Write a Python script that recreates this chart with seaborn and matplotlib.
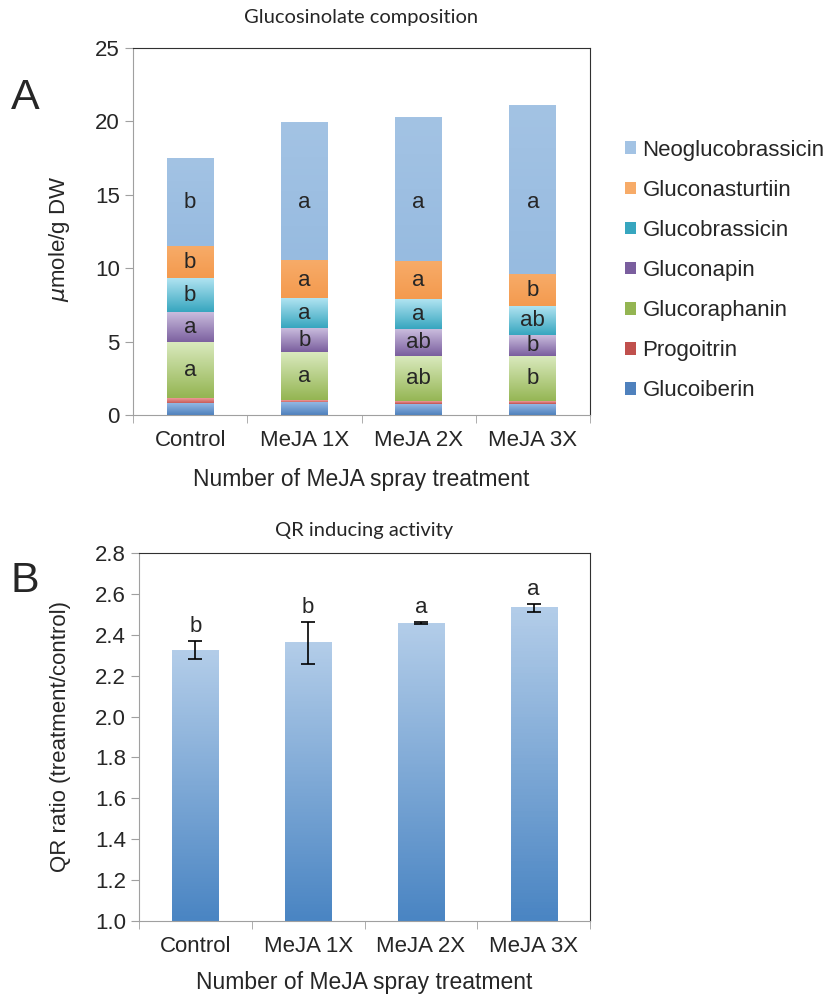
import numpy as np
import pandas as pd
import seaborn as sns
from matplotlib import pyplot as plt
from matplotlib.patches import Patch
from matplotlib.colors import LinearSegmentedColormap

sns.set_style('white')
plt.rcParams['font.family'] = ['Liberation Sans', 'DejaVu Sans']

# DADOS - PAINEL A (umole/g DW)
treatments = ['Control', 'MeJA 1X', 'MeJA 2X', 'MeJA 3X']
compounds = ['Glucoiberin', 'Progoitrin', 'Glucoraphanin', 'Gluconapin',
             'Glucobrassicin', 'Gluconasturtiin', 'Neoglucobrassicin']
glucoiberin = [0.75, 0.84, 0.73, 0.73]
progoitrin = [0.40, 0.18, 0.18, 0.18]
glucoraphanin = [3.75, 3.25, 3.11, 3.11]
gluconapin = [2.10, 1.63, 1.82, 1.43]
glucobrassicin = [2.30, 1.98, 1.99, 1.93]
gluconasturtiin = [2.15, 2.62, 2.61, 2.22]
neoglucobrassicin = [6.05, 9.46, 9.86, 11.45]

sig_glucoraphanin = ['a', 'a', 'ab', 'b']
sig_gluconapin = ['a', 'b', 'ab', 'b']
sig_glucobrassicin = ['b', 'a', 'a', 'ab']
sig_gluconasturtiin = ['b', 'a', 'a', 'b']
sig_neo = ['b', 'a', 'a', 'a']

# DADOS - PAINEL B
qr_ratio = [2.325, 2.36, 2.456, 2.532]
qr_err = [0.045, 0.104, 0.004, 0.02]
qr_sig = ['b', 'b', 'a', 'a']

# cores (topo, base) de cada camada
colors = {
    'Glucoiberin': ('#93b7e3', '#4f81bd'),
    'Progoitrin': ('#ee9a98', '#c0504d'),
    'Glucoraphanin': ('#d9e9bd', '#94b552'),
    'Gluconapin': ('#c9bcdd', '#7a5e9e'),
    'Glucobrassicin': ('#b0e3f1', '#37a6bf'),
    'Gluconasturtiin': ('#f7ab68', '#f49a4e'),
    'Neoglucobrassicin': ('#a3c3e4', '#97bbe0'),
}

values = np.array([glucoiberin, progoitrin, glucoraphanin, gluconapin,
                   glucobrassicin, gluconasturtiin, neoglucobrassicin])
cum = values.cumsum(axis=0)
bottoms = cum - values

fig = plt.figure(figsize=(8.33, 9.98), dpi=100)
axA = fig.add_axes([0.1597, 0.5842, 0.5486, 0.3677])
axB = fig.add_axes([0.1669, 0.0772, 0.5414, 0.3687])


def gradiente(ax, patch, y0, y1, c_top, c_bot):
    cmap = LinearSegmentedColormap.from_list('g', [c_bot, c_top])
    grad = np.linspace(1, 0, 100).reshape(-1, 1)
    x0 = patch.get_x()
    ax.imshow(grad, cmap=cmap, aspect='auto', vmin=0, vmax=1,
              extent=(x0, x0 + patch.get_width(), y0, y1), zorder=2)


# PAINEL A - barras empilhadas (camada mais alta primeiro)
for i in range(len(compounds) - 1, -1, -1):
    df = pd.DataFrame({'trat': treatments, 'val': cum[i]})
    sns.barplot(data=df, x='trat', y='val', color=colors[compounds[i]][1],
                width=0.41, saturation=1, ax=axA, zorder=1)
    for j, p in enumerate(axA.patches[-4:]):
        gradiente(axA, p, bottoms[i][j], cum[i][j], *colors[compounds[i]])

sig_layers = {2: sig_glucoraphanin, 3: sig_gluconapin, 4: sig_glucobrassicin,
              5: sig_gluconasturtiin}
for i, sig in sig_layers.items():
    for j in range(4):
        axA.text(j, (bottoms[i][j] + cum[i][j]) / 2, sig[j], ha='center',
                 va='center', fontsize=16, zorder=5)
for j in range(4):
    axA.text(j, 14.5, sig_neo[j], ha='center', va='center', fontsize=16, zorder=5)

axA.set_xlim(-0.5, 3.5)
axA.set_ylim(0, 25)
axA.set_yticks([0, 5, 10, 15, 20, 25])
axA.set_xlabel('Number of MeJA spray treatment', fontsize=16.5, labelpad=12)
axA.set_ylabel(r'$\mu$mole/g DW', fontsize=16)
axA.yaxis.set_label_coords(-0.133, 0.48)
axA.set_title('Glucosinolate composition', fontsize=14.5,
              family=['Lato', 'DejaVu Sans'], pad=18)

handles = [Patch(facecolor=colors[c][1] if c not in ('Neoglucobrassicin', 'Gluconasturtiin')
                 else colors[c][0], edgecolor='none', label=c) for c in compounds[::-1]]
fig.legend(handles=handles, loc='upper left', bbox_to_anchor=(0.75, 0.86),
           frameon=False, fontsize=16, handlelength=0.5, handleheight=0.5,
           handletextpad=0.3, labelspacing=0.86, borderaxespad=0, borderpad=0)

# PAINEL B - QR
dfB = pd.DataFrame({'trat': treatments, 'qr': qr_ratio})
sns.barplot(data=dfB, x='trat', y='qr', color='#4f89c5', width=0.41,
            saturation=1, ax=axB, zorder=1)
for j, p in enumerate(axB.patches[-4:]):
    gradiente(axB, p, 1.0, qr_ratio[j], '#b3cde9', '#4a85c3')
axB.errorbar(range(4), qr_ratio, yerr=qr_err, fmt='none', ecolor='black',
             elinewidth=1.2, capsize=5, capthick=1.2, zorder=4)
for j in range(4):
    axB.text(j, qr_ratio[j] + qr_err[j] + 0.02, qr_sig[j], ha='center',
             va='bottom', fontsize=16)
axB.set_xlim(-0.5, 3.5)
axB.set_ylim(1.0, 2.8)
axB.set_yticks(np.arange(1.0, 2.81, 0.2))
axB.set_yticklabels([f'{v:.1f}' for v in np.arange(1.0, 2.81, 0.2)])
axB.set_xlabel('Number of MeJA spray treatment', fontsize=16.5, labelpad=10)
axB.set_ylabel('QR ratio (treatment/control)', fontsize=16)
axB.yaxis.set_label_coords(-0.151, 0.5)
axB.set_title('QR inducing activity', fontsize=14.5,
              family=['Lato', 'DejaVu Sans'], pad=12)

for ax in (axA, axB):
    ax.spines['left'].set_color('#a0a0a0')
    ax.spines['bottom'].set_color('#a0a0a0')
    ax.spines['top'].set_color('#303030')
    ax.spines['right'].set_color('#303030')
    ax.tick_params(axis='y', which='major', length=6, color='#a0a0a0',
                   direction='out', left=True, labelsize=16)
    ax.tick_params(axis='x', which='major', length=0, labelsize=16, pad=11)
    ax.set_xticks([-0.5, 0.5, 1.5, 2.5, 3.5], minor=True)
    ax.tick_params(axis='x', which='minor', length=6, color='#a0a0a0',
                   direction='out', bottom=True)

fig.text(0.013, 0.891, 'A', fontsize=31)
fig.text(0.013, 0.407, 'B', fontsize=31)

plt.savefig('out.png', dpi=100)
